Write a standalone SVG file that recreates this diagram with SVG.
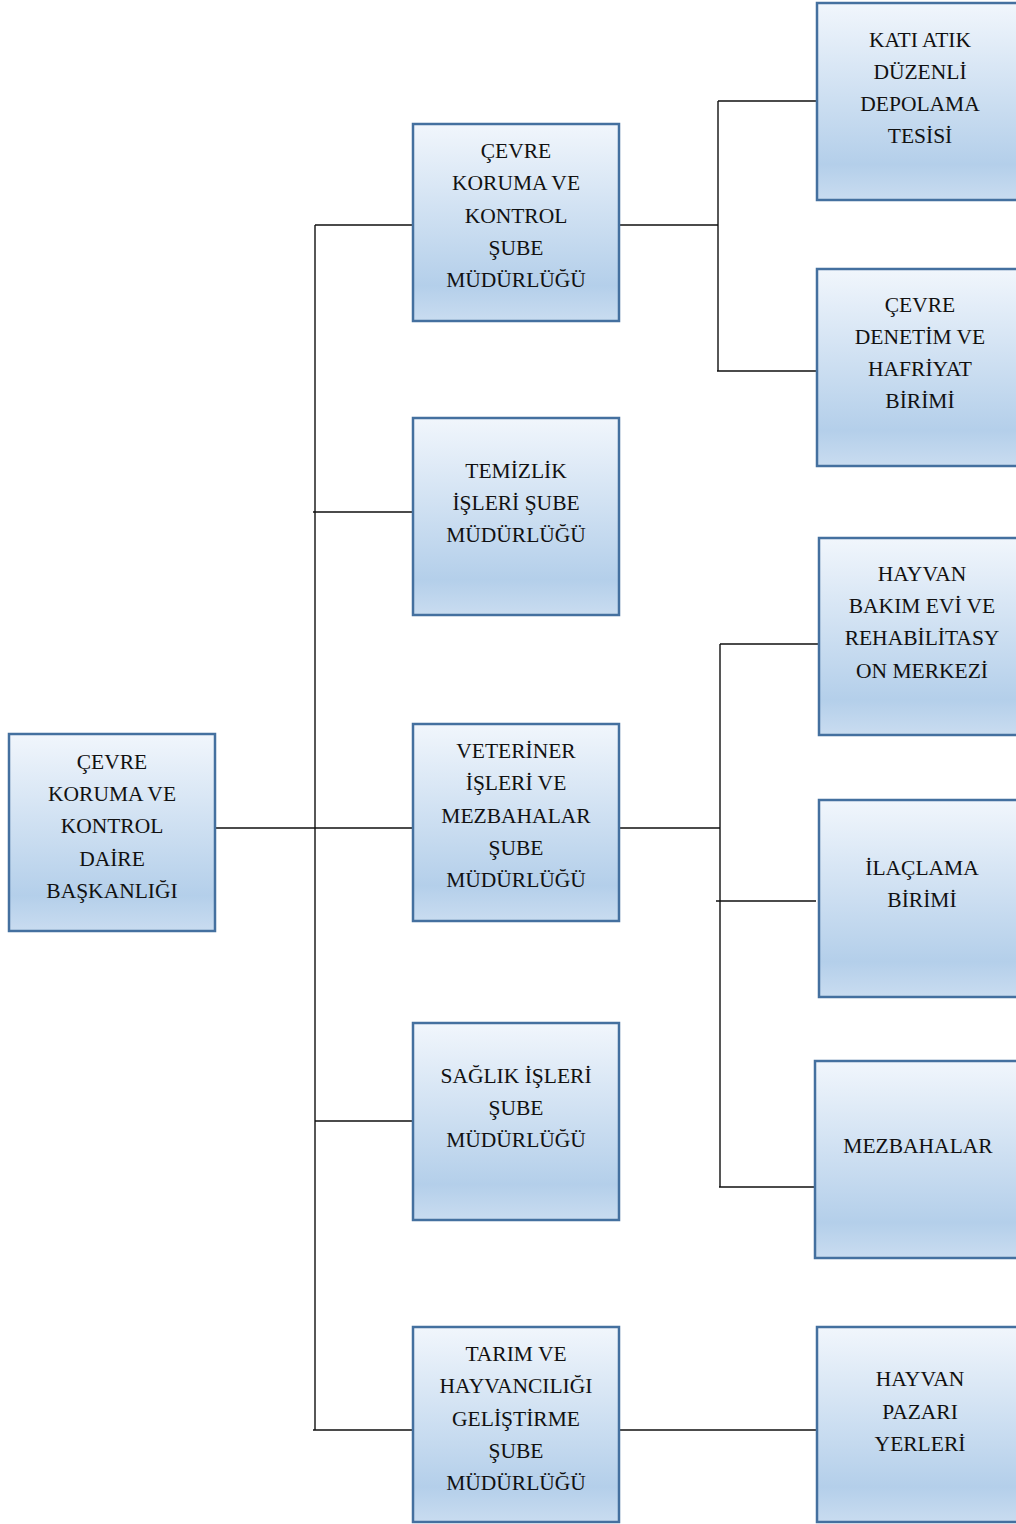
<svg xmlns="http://www.w3.org/2000/svg" width="1016" height="1524" viewBox="0 0 1016 1524">
<defs>
<linearGradient id="g" x1="0" y1="0" x2="0" y2="1">
<stop offset="0" stop-color="#f1f6fc"/>
<stop offset="0.82" stop-color="#b4cfea"/>
<stop offset="1" stop-color="#c9dcf0"/>
</linearGradient>
</defs>
<style>
.b{fill:url(#g);stroke:#44709f;stroke-width:2.5}
.t{font-family:"Liberation Serif","DejaVu Serif",serif;font-size:21.5px;fill:#111;text-anchor:middle}
.c{stroke:#111;stroke-width:1.4;fill:none}
</style>
<rect width="1016" height="1524" fill="#fff"/>
<g id="connectors">
<path class="c" d="M215 828H413M315 225V1430M315 225H413M313 512H413M315 1121H413M313 1430H413"/>
<path class="c" d="M619 225H718M718 101V371M718 101H817M717 371H817"/>
<path class="c" d="M619 828H720M720 644V1187M720 644H821M716 901H816M719 1187H815"/>
<path class="c" d="M619 1430H817"/>
</g>
<g id="n-root"><rect class="b" x="9" y="734" width="206" height="197"/>
<text class="t"><tspan x="112" y="769">ÇEVRE</tspan><tspan x="112" y="801">KORUMA VE</tspan><tspan x="112" y="833">KONTROL</tspan><tspan x="112" y="866">DAİRE</tspan><tspan x="112" y="898">BAŞKANLIĞI</tspan></text></g>
<g id="n-cevre"><rect class="b" x="413" y="124" width="206" height="197"/>
<text class="t"><tspan x="516" y="158">ÇEVRE</tspan><tspan x="516" y="190">KORUMA VE</tspan><tspan x="516" y="223">KONTROL</tspan><tspan x="516" y="255">ŞUBE</tspan><tspan x="516" y="287">MÜDÜRLÜĞÜ</tspan></text></g>
<g id="n-temizlik"><rect class="b" x="413" y="418" width="206" height="197"/>
<text class="t"><tspan x="516" y="478">TEMİZLİK</tspan><tspan x="516" y="510">İŞLERİ ŞUBE</tspan><tspan x="516" y="542">MÜDÜRLÜĞÜ</tspan></text></g>
<g id="n-veteriner"><rect class="b" x="413" y="724" width="206" height="197"/>
<text class="t"><tspan x="516" y="758">VETERİNER</tspan><tspan x="516" y="790">İŞLERİ VE</tspan><tspan x="516" y="823">MEZBAHALAR</tspan><tspan x="516" y="855">ŞUBE</tspan><tspan x="516" y="887">MÜDÜRLÜĞÜ</tspan></text></g>
<g id="n-saglik"><rect class="b" x="413" y="1023" width="206" height="197"/>
<text class="t"><tspan x="516" y="1083">SAĞLIK İŞLERİ</tspan><tspan x="516" y="1115">ŞUBE</tspan><tspan x="516" y="1147">MÜDÜRLÜĞÜ</tspan></text></g>
<g id="n-tarim"><rect class="b" x="413" y="1327" width="206" height="195"/>
<text class="t"><tspan x="516" y="1361">TARIM VE</tspan><tspan x="516" y="1393">HAYVANCILIĞI</tspan><tspan x="516" y="1426">GELİŞTİRME</tspan><tspan x="516" y="1458">ŞUBE</tspan><tspan x="516" y="1490">MÜDÜRLÜĞÜ</tspan></text></g>
<g id="n-kati"><rect class="b" x="817" y="3" width="220" height="197"/>
<text class="t"><tspan x="920" y="47">KATI ATIK</tspan><tspan x="920" y="79">DÜZENLİ</tspan><tspan x="920" y="111">DEPOLAMA</tspan><tspan x="920" y="143">TESİSİ</tspan></text></g>
<g id="n-denetim"><rect class="b" x="817" y="269" width="220" height="197"/>
<text class="t"><tspan x="920" y="312">ÇEVRE</tspan><tspan x="920" y="344">DENETİM VE</tspan><tspan x="920" y="376">HAFRİYAT</tspan><tspan x="920" y="408">BİRİMİ</tspan></text></g>
<g id="n-bakim"><rect class="b" x="819" y="538" width="220" height="197"/>
<text class="t"><tspan x="922" y="581">HAYVAN</tspan><tspan x="922" y="613">BAKIM EVİ VE</tspan><tspan x="922" y="645">REHABİLİTASY</tspan><tspan x="922" y="678">ON MERKEZİ</tspan></text></g>
<g id="n-ilaclama"><rect class="b" x="819" y="800" width="220" height="197"/>
<text class="t"><tspan x="922" y="875">İLAÇLAMA</tspan><tspan x="922" y="907">BİRİMİ</tspan></text></g>
<g id="n-mezbahalar"><rect class="b" x="815" y="1061" width="220" height="197"/>
<text class="t"><tspan x="918" y="1153">MEZBAHALAR</tspan></text></g>
<g id="n-pazar"><rect class="b" x="817" y="1327" width="220" height="195"/>
<text class="t"><tspan x="920" y="1386">HAYVAN</tspan><tspan x="920" y="1419">PAZARI</tspan><tspan x="920" y="1451">YERLERİ</tspan></text></g>
</svg>
